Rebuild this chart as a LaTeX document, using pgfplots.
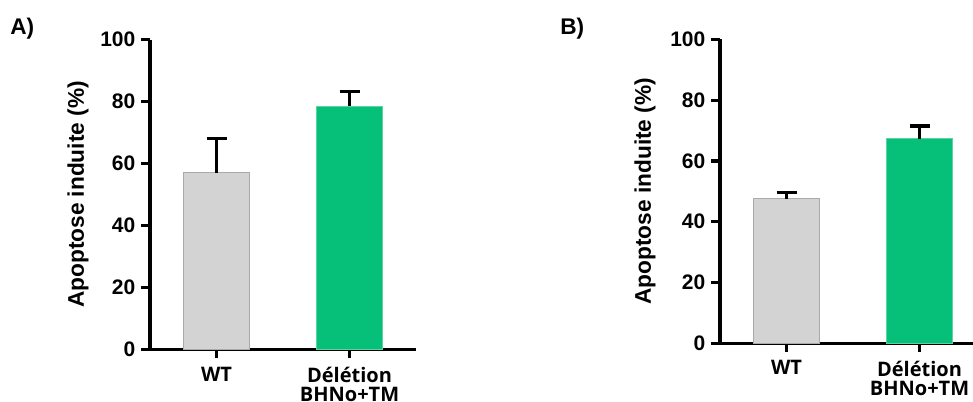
\documentclass[border=0pt]{standalone}
\usepackage{pgfplots}
\pgfplotsset{compat=1.18}
\usepackage{fontspec}
\setmainfont{Liberation Sans}
\newfontfamily\catfont{Open Sans}
\definecolor{barGray}{HTML}{D3D3D3}
\definecolor{barGrayEdge}{HTML}{AAAAAA}
\definecolor{barGreen}{HTML}{06BF78}
\definecolor{barGreenEdge}{HTML}{5CD3A2}
\pgfplotsset{
  panel/.style={
    scale only axis,
    width=199.5pt,
    xmin=-0.5, xmax=1.5,
    ymin=0, ymax=100,
    ytick={0,20,40,60,80,100},
    xtick={0,1},
    xticklabels={WT,{D\'el\'etion\\BHNo+TM}},
    axis x line*=bottom,
    axis y line*=left,
    axis line style={-, line width=2.4pt, black},
    tick align=outside,
    major tick length=6.5pt,
    tick style={line width=2.4pt, black},
    /pgf/number format/assume math mode=true,
    yticklabel style={font=\fontsize{15.75}{18}\selectfont\bfseries, xshift=-1pt},
    xticklabel style={font=\fontsize{15}{14.25}\selectfont\catfont\bfseries, align=center, yshift=-3pt},
    ylabel={Apoptose induite (\%)},
    ylabel style={font=\fontsize{17}{20}\selectfont\bfseries, anchor=center},
    ybar, bar width=49.5pt, bar shift=0pt,
    error bars/y dir=plus, error bars/y explicit,
    error bars/error bar style={line width=2.4pt, black},
    error bars/error mark options={rotate=90, mark size=7.5pt, line width=2.4pt, black},
  }
}
\begin{document}
\begin{tikzpicture}
\begin{axis}[panel, at={(112.5pt,38.625pt)}, anchor=south west, height=232.5pt,
  ylabel style={at={(axis description cs:-0.271,0.5)}}]
  \addplot[fill=barGray, draw=barGrayEdge, line width=0.75pt] coordinates {(0,57.0) +- (0,11.1)};
  \addplot[fill=barGreen, draw=barGreenEdge, line width=0.75pt] coordinates {(1,78.5) +- (0,4.7)};
\end{axis}
\begin{axis}[panel, at={(540pt,43.275pt)}, anchor=south west, height=228pt,
  ylabel style={at={(axis description cs:-0.282,0.5)}}]
  \addplot[fill=barGray, draw=barGrayEdge, line width=0.75pt] coordinates {(0,47.6) +- (0,1.9)};
  \addplot[fill=barGreen, draw=barGreenEdge, line width=0.75pt] coordinates {(1,67.3) +- (0,4.2)};
\end{axis}
\node[anchor=base west, font=\fontsize{17}{20}\selectfont\bfseries, inner sep=0pt] at (7.5pt,275.25pt) {A)};
\node[anchor=base west, font=\fontsize{17}{20}\selectfont\bfseries, inner sep=0pt] at (420pt,275.25pt) {B)};
\pgfresetboundingbox
\path (0pt,0pt) rectangle (729.75pt,300.75pt);
\end{tikzpicture}
\end{document}
